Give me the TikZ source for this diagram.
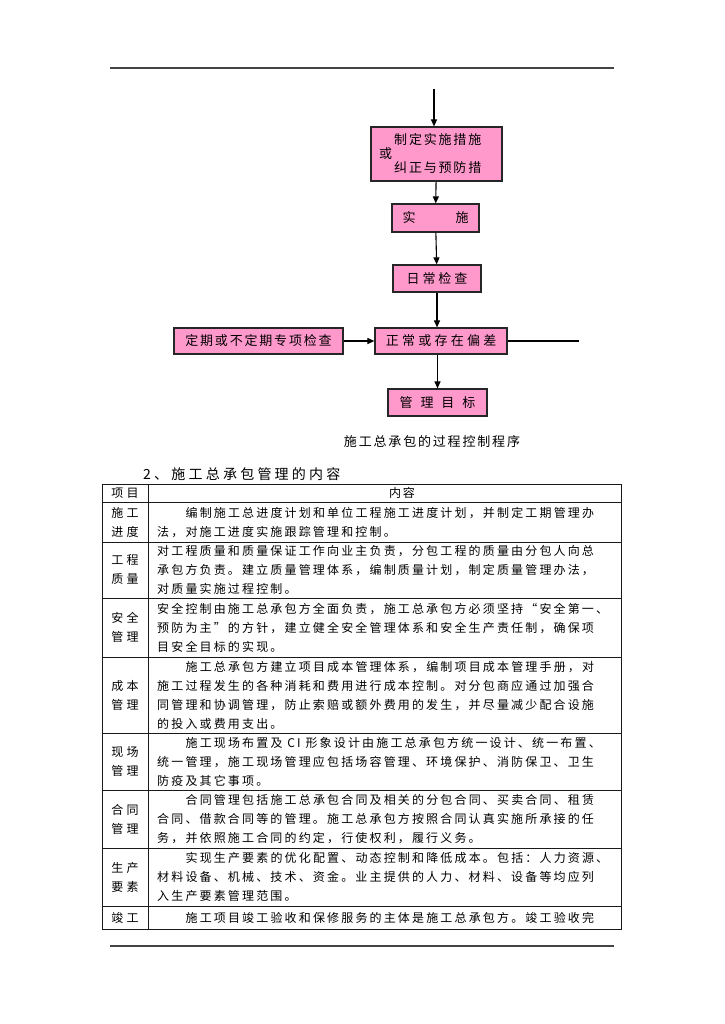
\documentclass[tikz,border=0pt]{standalone}
\usepackage{fontspec}
\setmainfont{Noto Sans CJK SC}
\newfontfamily\flowfont[LetterSpace=14]{Noto Sans CJK SC}
\newfontfamily\tabfont[LetterSpace=18]{Noto Sans CJK SC}
\newfontfamily\headfont[LetterSpace=23]{Noto Sans CJK SC}
\usetikzlibrary{arrows.meta}
\definecolor{boxpink}{HTML}{FF99CC}
\definecolor{rulegray}{HTML}{444444}
\tikzset{
  pinkbox/.style={draw=black!85, fill=boxpink, line width=1.2pt, inner sep=0pt,
    font=\flowfont\fontsize{13}{14}\selectfont},
  arr/.style={line width=1.1pt, -{Triangle[length=7pt,width=6pt]}},
  plainline/.style={line width=1.1pt},
  tline/.style={line width=0.8pt, black!90},
  celltext/.style={anchor=north west, align=left, inner sep=0pt,
    font=\tabfont\fontsize{12}{19}\selectfont},
  labeltext/.style={anchor=center, align=center, inner sep=0pt,
    font=\tabfont\fontsize{12}{19}\selectfont},
}
\newcommand{\ind}{\hspace*{28.4pt}}
\begin{document}
\begin{tikzpicture}[x=1pt,y=-1pt]
\useasboundingbox (0,0) rectangle (724,1024);
\fill[white] (0,0) rectangle (724,1024);

% page rules
\draw[rulegray, line width=1.2pt] (110,68) -- (614,68);
\draw[rulegray, line width=1.2pt] (110,946) -- (614,946);

% flowchart
\node[pinkbox, minimum width=131pt, minimum height=54pt] (b1) at (436.5,154) {};
\node[anchor=west, align=left, inner sep=0pt, font=\flowfont\fontsize{13}{14}\selectfont] (b1t) at (379,154)
  {\hspace*{15pt}制定实施措施\\或\\\hspace*{15pt}纠正与预防措};
\node[pinkbox, minimum width=87pt, minimum height=28pt] (b2) at (435.5,218) {实\hspace{40pt}施};
\node[pinkbox, minimum width=88pt, minimum height=27pt] (b3) at (437,278.5) {日\hspace{2.9pt}常\hspace{2.9pt}检\hspace{2.9pt}查};
\node[pinkbox, minimum width=132pt, minimum height=26pt] (b4) at (441,341) {\addfontfeature{LetterSpace=25}正常或存在偏差};
\node[pinkbox, minimum width=169pt, minimum height=26pt] (bl) at (258.5,341) {定期或不定期专项检查};
\node[pinkbox, minimum width=99pt, minimum height=27pt] (b5) at (437.5,402.5) {管\hspace{7.9pt}理\hspace{7.9pt}目\hspace{7.9pt}标};

\coordinate (top) at (434,89);
\coordinate (rend) at (579,341);
\draw[arr] (top) -- (top |- b1.north);
\draw[arr] (b1) -- (b2);
\draw[arr] (b2) -- (b3);
\draw[arr] (b3) -- (b4.north -| b3);
\draw[arr] (bl) -- (b4);
\draw[plainline] (b4.east) -- (rend);
\draw[arr] (b4.south -| b5) -- (b5);

\node[inner sep=0pt, font=\flowfont\fontsize{13}{14}\selectfont] (cap) at (432,442) {施工总承包的过程控制程序};

% heading
\node[anchor=west, inner sep=0pt, font=\headfont\fontsize{14}{16}\selectfont] (head) at (143,474) {2、施工总承包管理的内容};

% table grid
\draw[tline] (102,484) rectangle (621,929);
\draw[tline] (148,484) -- (148,929);
\foreach \yy in {502,542,598,657,733,790,848,906}
  \draw[tline] (102,\yy) -- (621,\yy);

% header
\node[labeltext] (h1) at (125,493) {项\hspace{3.5pt}目};
\node[labeltext] (h2) at (402,493) {内\hspace{2pt}容};

% labels
\node[labeltext] (l1) at (125,522) {施\hspace{3.5pt}工\\进\hspace{3.5pt}度};
\node[labeltext] (l2) at (125,570) {工\hspace{3.5pt}程\\质\hspace{3.5pt}量};
\node[labeltext] (l3) at (125,627.5) {安\hspace{3.5pt}全\\管\hspace{3.5pt}理};
\node[labeltext] (l4) at (125,695) {成\hspace{3.5pt}本\\管\hspace{3.5pt}理};
\node[labeltext] (l5) at (125,761.5) {现\hspace{3.5pt}场\\管\hspace{3.5pt}理};
\node[labeltext] (l6) at (125,819) {合\hspace{3.5pt}同\\管\hspace{3.5pt}理};
\node[labeltext] (l7) at (125,877) {生\hspace{3.5pt}产\\要\hspace{3.5pt}素};
\node[labeltext] (l8) at (125,917.5) {竣\hspace{3.5pt}工};

% contents
\node[celltext] (c1) at (157,507.1) {\ind 编制施工总进度计划和单位工程施工进度计划，并制定工期管理办\\法，对施工进度实施跟踪管理和控制。};
\node[celltext] (c2) at (157,545.6) {对工程质量和质量保证工作向业主负责，分包工程的质量由分包人向总\\承包方负责。建立质量管理体系，编制质量计划，制定质量管理办法，\\对质量实施过程控制。};
\node[celltext] (c3) at (157,603.1) {安全控制由施工总承包方全面负责，施工总承包方必须坚持“安全第一、\\预防为主”的方针，建立健全安全管理体系和安全生产责任制，确保项\\目安全目标的实现。};
\node[celltext] (c4) at (157,661.1) {\ind 施工总承包方建立项目成本管理体系，编制项目成本管理手册，对\\施工过程发生的各种消耗和费用进行成本控制。对分包商应通过加强合\\同管理和协调管理，防止索赔或额外费用的发生，并尽量减少配合设施\\的投入或费用支出。};
\node[celltext] (c5) at (157,737.1) {\ind 施工现场布置及 CI 形象设计由施工总承包方统一设计、统一布置、\\统一管理，施工现场管理应包括场容管理、环境保护、消防保卫、卫生\\防疫及其它事项。};
\node[celltext] (c6) at (157,794.6) {\ind 合同管理包括施工总承包合同及相关的分包合同、买卖合同、租赁\\合同、借款合同等的管理。施工总承包方按照合同认真实施所承接的任\\务，并依照施工合同的约定，行使权利，履行义务。};
\node[celltext] (c7) at (157,852.6) {\ind 实现生产要素的优化配置、动态控制和降低成本。包括：人力资源、\\材料设备、机械、技术、资金。业主提供的人力、材料、设备等均应列\\入生产要素管理范围。};
\node[celltext] (c8) at (157,912.1) {\ind 施工项目竣工验收和保修服务的主体是施工总承包方。竣工验收完};
\end{tikzpicture}
\end{document}
